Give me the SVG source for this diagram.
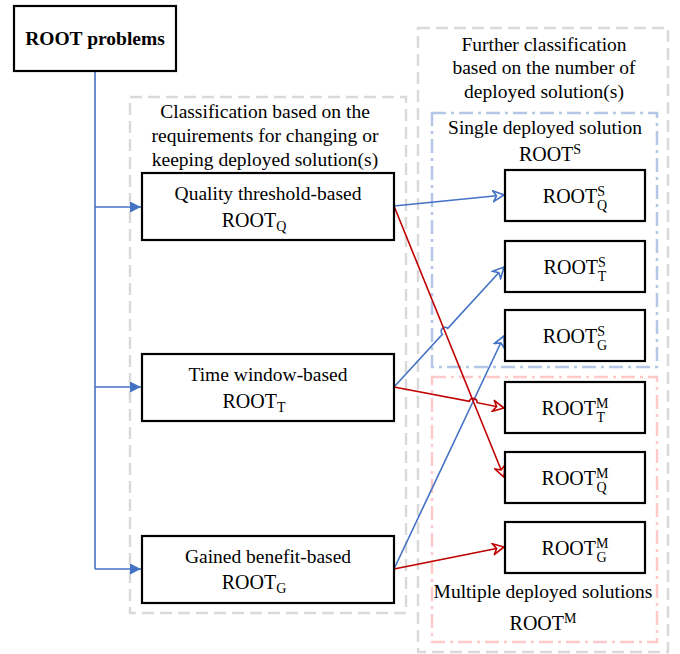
<svg xmlns="http://www.w3.org/2000/svg" width="680" height="654" viewBox="0 0 680 654">
<style>
.box{fill:#fff;stroke:#000;stroke-width:2.2}
.t{font-family:"Liberation Serif","Times New Roman",serif;fill:#000;text-anchor:middle}
.l{font-size:19.5px}
.r{font-size:20px}
.s{font-size:14px}
.g{fill:none;stroke:#D9D9D9;stroke-width:2.5;stroke-dasharray:12 6}
.bl{fill:none;stroke:#B4C7E7;stroke-width:2.5;stroke-dasharray:14 5 3 5}
.pk{fill:none;stroke:#FFC9C9;stroke-width:2.5;stroke-dasharray:14 5 3 5}
.cb{fill:none;stroke:#4472C4;stroke-width:1.6}
.cr{fill:none;stroke:#C00000;stroke-width:1.6}
</style>
<defs>
<marker id="fb" viewBox="0 0 10 10" refX="10" refY="5" markerWidth="11" markerHeight="11" markerUnits="userSpaceOnUse" orient="auto"><path d="M0,0 L10,5 L0,10 Z" fill="#4472C4"/></marker>
<marker id="ob" viewBox="0 0 12 12" refX="11" refY="6" markerWidth="13" markerHeight="13" markerUnits="userSpaceOnUse" orient="auto"><path d="M1,1 L11,6 L1,11 L4,6 Z" fill="#fff" stroke="#4472C4" stroke-width="1.5"/></marker>
<marker id="or" viewBox="0 0 12 12" refX="11" refY="6" markerWidth="13" markerHeight="13" markerUnits="userSpaceOnUse" orient="auto"><path d="M1,1 L11,6 L1,11 L4,6 Z" fill="#fff" stroke="#C00000" stroke-width="1.5"/></marker>
</defs>
<g id="containers">
<rect class="g" x="130" y="97" width="276" height="516"/>
<rect class="g" x="418" y="28" width="250" height="624"/>
<rect class="bl" x="432" y="113" width="225" height="254"/>
<rect class="pk" x="432" y="377" width="225" height="265"/>
</g>
<g id="container-labels">
<text class="t l" x="265" y="118">Classification based on the</text>
<text class="t l" x="265" y="142">requirements for changing or</text>
<text class="t l" x="265" y="166">keeping deployed solution(s)</text>
<text class="t l" x="544" y="51">Further classification</text>
<text class="t l" x="544" y="74">based on the number of</text>
<text class="t l" x="544" y="98">deployed solution(s)</text>
<text class="t l" x="545" y="134">Single deployed solution</text>
<text class="t r" x="550" y="161">ROOT<tspan class="s" dy="-7">S</tspan></text>
<text class="t l" x="543" y="598">Multiple deployed solutions</text>
<text class="t r" x="543" y="630">ROOT<tspan class="s" dy="-7">M</tspan></text>
</g>
<g id="connectors">
<path class="cb" d="M95,71 V569"/>
<path class="cb" d="M95,207 H141" marker-end="url(#fb)"/>
<path class="cb" d="M95,387 H141" marker-end="url(#fb)"/>
<path class="cb" d="M95,569 H141" marker-end="url(#fb)"/>
<path class="cb" d="M394,206 L504,195" marker-end="url(#ob)"/>
<path class="cb" d="M394,387 L442.4,334.25 A4,4 0 0 1 447.8,328.35 L504,267" marker-end="url(#ob)"/>
<path class="cb" d="M394,569 L504,336" marker-end="url(#ob)"/>
<path class="cr" d="M394,206 L504,477" marker-end="url(#or)"/>
<path class="cr" d="M394,387 L469.3,401.3 A4,4 0 0 1 477.1,402.7 L504,408" marker-end="url(#or)"/>
<path class="cr" d="M394,569 L504,547" marker-end="url(#or)"/>
</g>
<g id="root-problems">
<rect class="box" x="14" y="6" width="162" height="65" stroke-width="2.8"/>
<text class="t" x="95" y="45" font-size="19.5" font-weight="bold">ROOT problems</text>
</g>
<g id="quality">
<rect class="box" x="142" y="173" width="252" height="67"/>
<text class="t l" x="268" y="200">Quality threshold-based</text>
<text class="t r" x="254" y="227">ROOT<tspan class="s" dy="4">Q</tspan></text>
</g>
<g id="time">
<rect class="box" x="142" y="354" width="252" height="67"/>
<text class="t l" x="268" y="381">Time window-based</text>
<text class="t r" x="254" y="408">ROOT<tspan class="s" dy="4">T</tspan></text>
</g>
<g id="gained">
<rect class="box" x="142" y="536" width="252" height="67"/>
<text class="t l" x="268" y="563">Gained benefit-based</text>
<text class="t r" x="254" y="589">ROOT<tspan class="s" dy="4">G</tspan></text>
</g>
<g id="sq">
<rect class="box" x="505" y="170" width="140" height="51"/>
<text class="t r" x="575" y="203">ROOT<tspan class="s" dy="-7">S</tspan><tspan class="s" dx="-8" dy="14">Q</tspan></text>
</g>
<g id="st">
<rect class="box" x="505" y="241" width="140" height="51"/>
<text class="t r" x="575" y="274">ROOT<tspan class="s" dy="-7">S</tspan><tspan class="s" dx="-8" dy="14">T</tspan></text>
</g>
<g id="sg">
<rect class="box" x="505" y="310" width="140" height="51"/>
<text class="t r" x="575" y="343">ROOT<tspan class="s" dy="-7">S</tspan><tspan class="s" dx="-8" dy="14">G</tspan></text>
</g>
<g id="mt">
<rect class="box" x="505" y="382" width="140" height="51"/>
<text class="t r" x="575" y="415">ROOT<tspan class="s" dy="-7">M</tspan><tspan class="s" dx="-12" dy="14">T</tspan></text>
</g>
<g id="mq">
<rect class="box" x="505" y="452" width="140" height="51"/>
<text class="t r" x="575" y="485">ROOT<tspan class="s" dy="-7">M</tspan><tspan class="s" dx="-12" dy="14">Q</tspan></text>
</g>
<g id="mg">
<rect class="box" x="505" y="522" width="140" height="51"/>
<text class="t r" x="575" y="555">ROOT<tspan class="s" dy="-7">M</tspan><tspan class="s" dx="-12" dy="14">G</tspan></text>
</g>
</svg>
